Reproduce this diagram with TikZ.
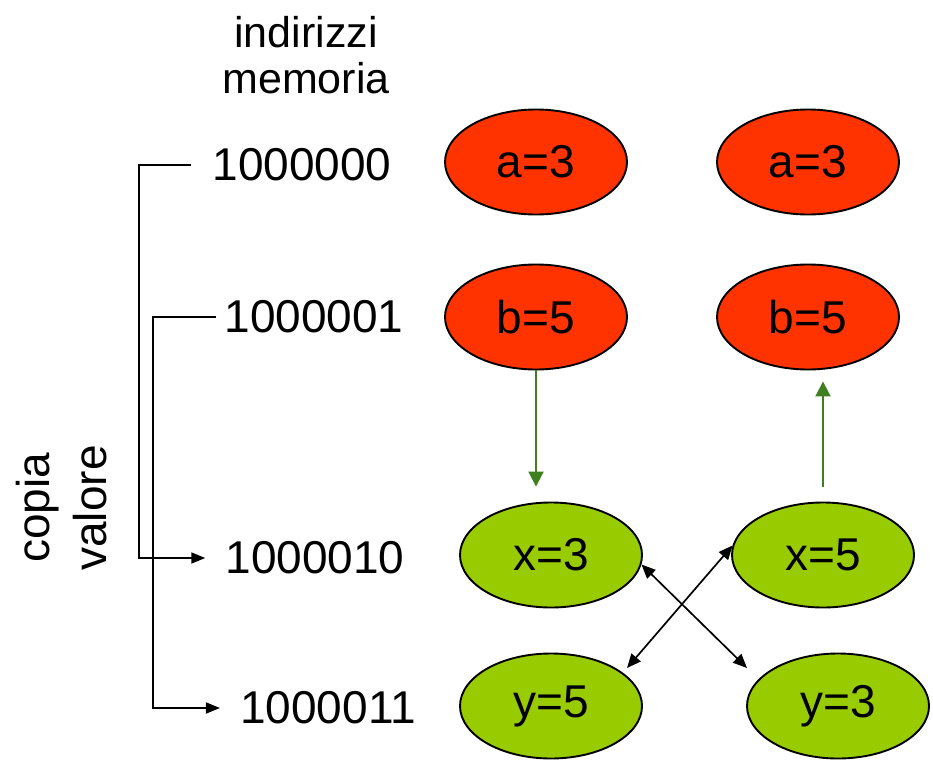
\documentclass[tikz,border=0pt]{standalone}
\usepackage{fontspec}
\setmainfont{Liberation Sans}
\usetikzlibrary{shapes.geometric,arrows.meta,calc}
\definecolor{redfill}{RGB}{255,51,0}
\definecolor{greenfill}{RGB}{153,204,0}
\definecolor{arrowgreen}{RGB}{63,127,31}
\tikzset{
  cell/.style={ellipse, draw=black, line width=1.9pt, minimum width=182pt, minimum height=105pt, inner sep=0pt, font=\fontsize{46}{55}\selectfont},
  redcell/.style={cell, fill=redfill},
  greencell/.style={cell, fill=greenfill},
  addr/.style={inner sep=0pt, font=\fontsize{46}{55}\selectfont},
  blackarrow/.style={line width=1.7pt, -{Triangle[length=14pt,width=11pt]}},
  swaparrow/.style={line width=1.7pt, {Triangle[length=14pt,width=12pt]}-{Triangle[length=14pt,width=12pt]}},
  greenarrow/.style={draw=arrowgreen, line width=2pt, -{Triangle[length=15pt,width=15pt]}, color=arrowgreen}
}
\begin{document}
\begin{tikzpicture}[x=1pt,y=-1pt]
\useasboundingbox (0,0) rectangle (933,767);
% headings
\node[inner sep=0pt, align=center, font=\fontsize{43}{46}\selectfont] (head) at (306,55) {indirizzi\\memoria};
\node[inner sep=0pt, align=center, rotate=90, font=\fontsize{46}{57}\selectfont] (copy) at (62,508) {copia\\valore};
% addresses
\node[addr] (n0) at (302,165) {1000000};
\node[addr] (n1) at (314,317) {1000001};
\node[addr] (n2) at (315,558) {1000010};
\node[addr] (n3) at (328,708) {1000011};
% memory cells
\node[redcell] (a1) at (536,162) {a=3};
\node[redcell] (a2) at (808,162) {a=3};
\node[redcell] (b1) at (536,317) {b=5};
\node[redcell] (b2) at (808,317) {b=5};
\node[greencell] (x1) at (551,555) {x=3};
\node[greencell] (x2) at (823,555) {x=5};
\node[greencell] (y1) at (551,706) {y=5};
\node[greencell] (y2) at (838,706) {y=3};
% copy brackets
\draw[blackarrow, shorten <=21pt, shorten >=20pt] (n0.west) -- ++(-73,0) |- (n2.west);
\draw[blackarrow, shorten <=8pt, shorten >=20pt] (n1.west) -- ++(-71,0) |- (n3.west);
% green arrows
\draw[greenarrow, shorten >=15pt] (b1.south) -- (b1.south |- x1.north);
\draw[greenarrow, shorten <=15pt, shorten >=11pt] (x2.north) -- (x2.north |- b2.south);
% swap arrows
\draw[swaparrow] (x1.-6) -- ($(y2)+(-91,-38)$);
\draw[swaparrow] (x2.174) -- ($(y1)+(76,-38)$);
\end{tikzpicture}
\end{document}
